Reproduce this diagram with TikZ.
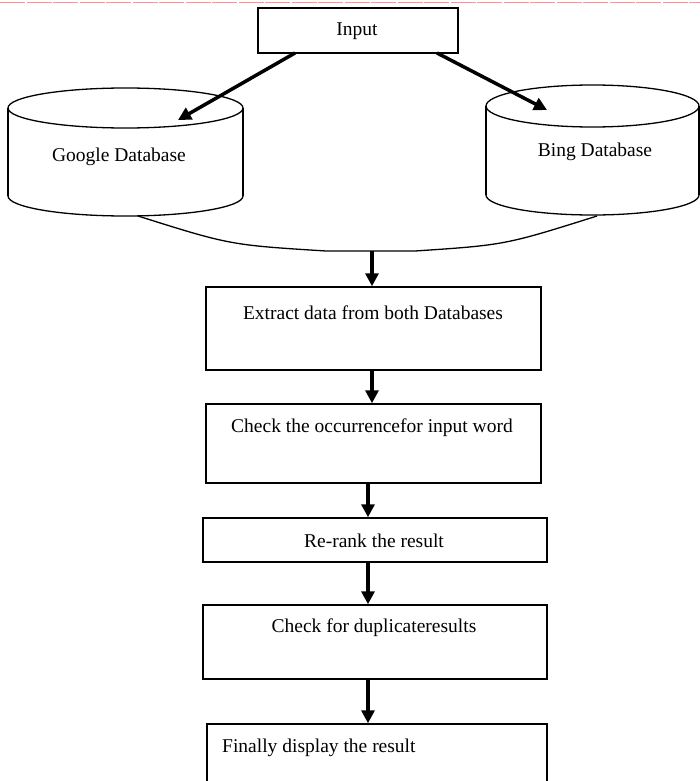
\documentclass[tikz,border=0pt]{standalone}
\usepackage{fontspec}
\setmainfont{Liberation Serif}
\usetikzlibrary{arrows.meta}
\begin{document}
\begin{tikzpicture}[x=1pt,y=-1pt,
  flowbox/.style={draw,line width=1.5pt,inner sep=0pt},
  lbl/.style={font=\fontsize{19.5}{22}\selectfont,inner sep=0pt},
  cyl/.style={draw,line width=1.3pt},
  flowarrow/.style={draw,line width=3.5pt,-{Triangle[width=13pt,length=13pt]}},
  pinkline/.style={draw,line width=1.5pt,color={rgb,255:red,224;green,160;blue,160},dash pattern=on 25pt off 1.5pt}]
\useasboundingbox (0,0) rectangle (700,781);
\clip (0,0) rectangle (700,781);
\fill[white] (0,0) rectangle (700,781);
% top rule
\draw[pinkline] (0,2.5) -- (700,2.5);
% input
\node[flowbox,minimum width=200pt,minimum height=45pt] (input) at (358,30.5) {};
\node[lbl] (inputT) at (357,31) {Input};
% Google cylinder
\draw[cyl] (125.5,108) ellipse [x radius=117.5pt,y radius=20pt];
\draw[cyl] (8,108) -- (8,196);
\draw[cyl] (243,108) -- (243,196);
\begin{scope}
  \clip (0,196) rectangle (260,240);
  \draw[cyl] (125.5,196) ellipse [x radius=117.5pt,y radius=20pt];
\end{scope}
\node[lbl] (google) at (119,157) {Google Database};
% Bing cylinder
\draw[cyl] (592.5,106) ellipse [x radius=106.5pt,y radius=21pt];
\draw[cyl] (486,106) -- (486,195);
\draw[cyl] (699,106) -- (699,195);
\begin{scope}
  \clip (470,195) rectangle (700,240);
  \draw[cyl] (592.5,195) ellipse [x radius=106.5pt,y radius=20pt];
\end{scope}
\node[lbl] (bing) at (595,152) {Bing Database};
% arrows from input
\coordinate (gtail) at (295,53);
\coordinate (gtip) at (178,120);
\coordinate (btail) at (437,53);
\coordinate (btip) at (547,110);
\draw[flowarrow] (gtail) -- (gtip);
\draw[flowarrow] (btail) -- (btip);
% merge lines
\coordinate (gbot) at (138,216);
\coordinate (bbot) at (597,216);
\coordinate (mleft) at (326,251);
\coordinate (mright) at (415,251);
\coordinate (merge) at (372,251);
\draw[cyl] (gbot) .. controls (230,245) .. (mleft) -- (mright) .. controls (505,245) .. (bbot);
% flow boxes
\node[flowbox,minimum width=335pt,minimum height=83pt] (extract) at (373.5,328.5) {};
\node[lbl] (extractT) at (373,313) {Extract data from both Databases};
\node[flowbox,minimum width=335pt,minimum height=79pt] (occur) at (373.5,443.5) {};
\node[lbl] (occurT) at (372,428) {Check the occurrencefor input word};
\node[flowbox,minimum width=344pt,minimum height=44pt] (rerank) at (375,540) {};
\node[lbl] (rerankT) at (374,541) {Re-rank the result};
\node[flowbox,minimum width=344pt,minimum height=74pt] (dup) at (375,642) {};
\node[lbl] (dupT) at (374,628) {Check for duplicateresults};
\node[flowbox,minimum width=340pt,minimum height=90pt] (final) at (377,769) {};
\node[lbl,anchor=west] (finalT) at (222,748) {Finally display the result};
% flow arrows
\draw[flowarrow] (merge) -- (merge |- extract.north);
\draw[flowarrow] (372,370) coordinate (a1) -- (a1 |- occur.north);
\draw[flowarrow] (368,483) coordinate (a2) -- (a2 |- rerank.north);
\draw[flowarrow] (368,562) coordinate (a3) -- (a3 |- dup.north);
\draw[flowarrow] (368,679) coordinate (a4) -- (a4 |- final.north);
\end{tikzpicture}
\end{document}
